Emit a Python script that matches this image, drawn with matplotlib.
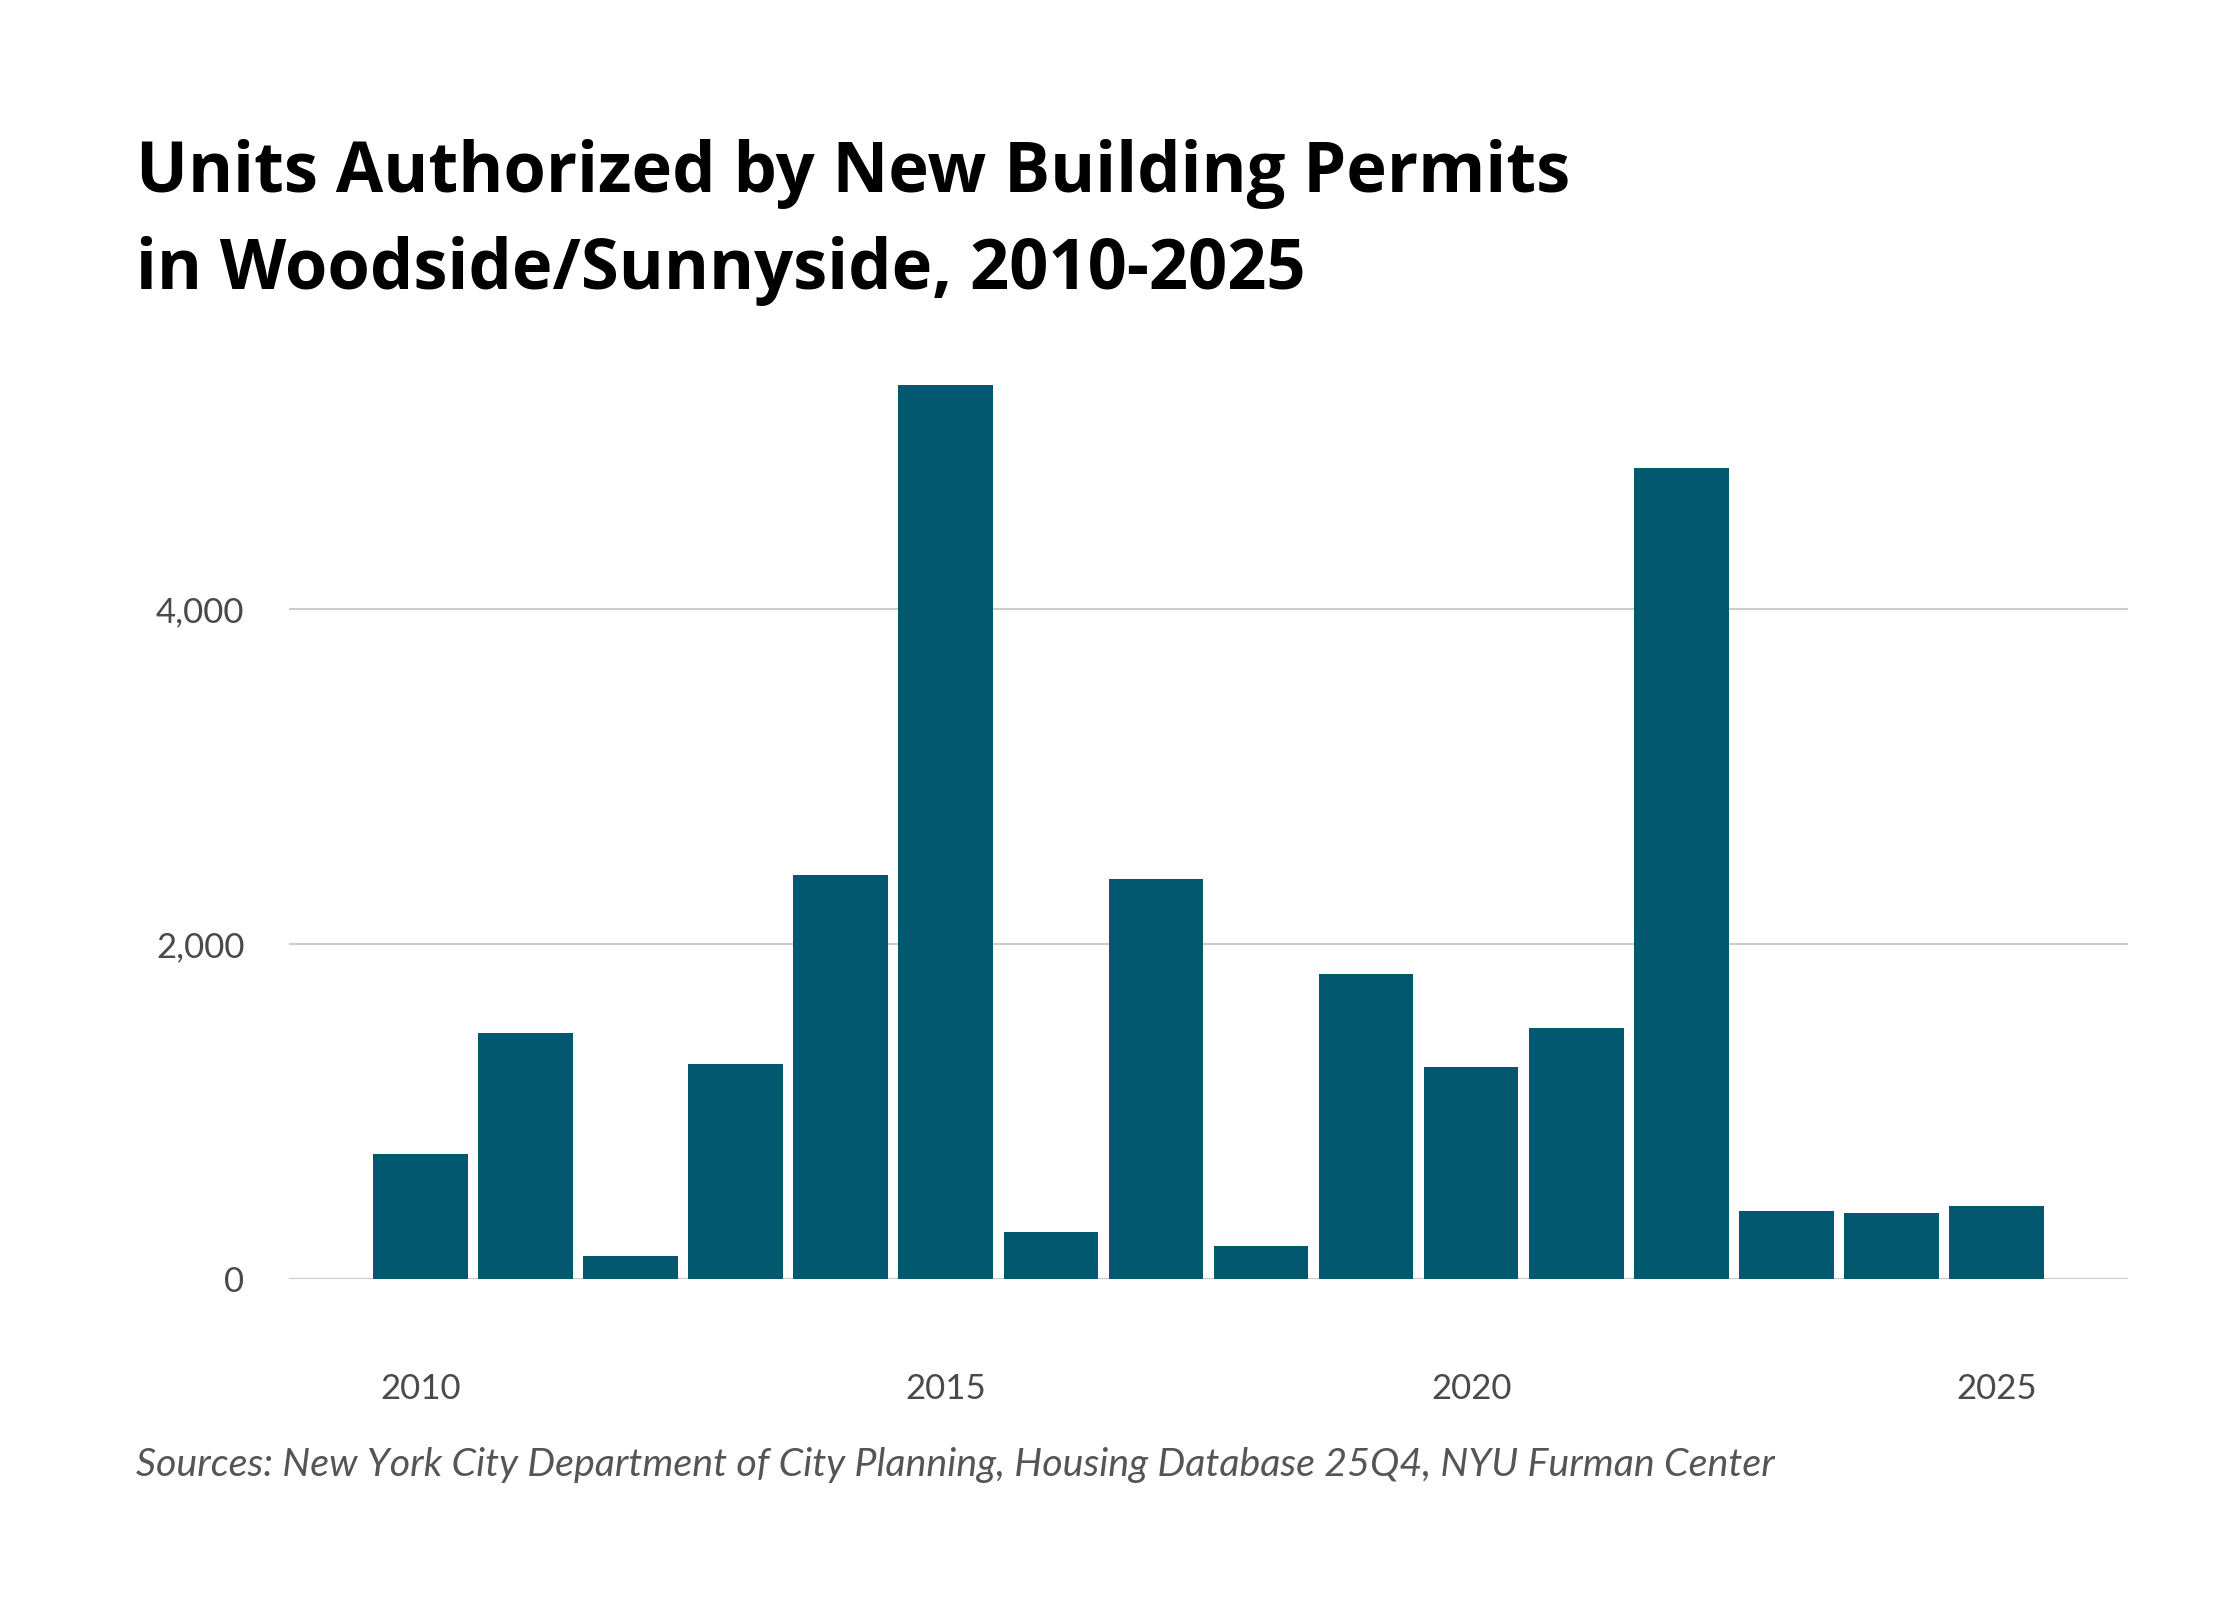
import matplotlib.pyplot as plt
from matplotlib.ticker import FuncFormatter

# data
years = list(range(2010, 2026))
units = [746, 1469, 138, 1285, 2415, 5338, 281, 2392,
         196, 1819, 1265, 1500, 4846, 408, 396, 435]
ytick_vals = [0, 2000, 4000]
xtick_vals = [2010, 2015, 2020, 2025]

title = "Units Authorized by New Building Permits\nin Woodside/Sunnyside, 2010-2025"
source = "Sources: New York City Department of City Planning, Housing Database 25Q4, NYU Furman Center"

bar_color = "#02586f"

fig = plt.figure(figsize=(11.2, 8), dpi=200)
ax = fig.add_axes([0.129, 0.2006, 0.821, 0.5756])

ax.bar(years, units, width=0.9, color=bar_color, zorder=3)

ax.set_xlim(2008.75, 2026.25)
ax.set_ylim(0, 5500)
ax.set_yticks(ytick_vals)
ax.yaxis.set_major_formatter(FuncFormatter(lambda v, p: f"{int(v):,}"))
ax.set_xticks(xtick_vals)

# gridlines only, no spines
ax.grid(axis="y", color="#cccccc", linewidth=0.75, zorder=0)
for s in ax.spines.values():
    s.set_visible(False)
ax.tick_params(axis="both", length=0, labelsize=12.5, labelcolor="#4a4a4a")
ax.tick_params(axis="y", pad=16)
ax.tick_params(axis="x", pad=34)
for lab in ax.get_xticklabels() + ax.get_yticklabels():
    lab.set_fontfamily("Lato")

# va=baseline on multi-line text anchors the last line
fig.text(0.0607, 0.8194, title, fontsize=24.7, fontweight="bold",
         fontfamily="Open Sans", color="#000000", va="baseline",
         linespacing=1.5)
fig.text(0.0607, 0.0775, source, fontsize=14.2, fontstyle="italic",
         fontfamily="Lato", color="#555555", va="baseline")

fig.savefig("out.png", dpi=200, facecolor="white")
